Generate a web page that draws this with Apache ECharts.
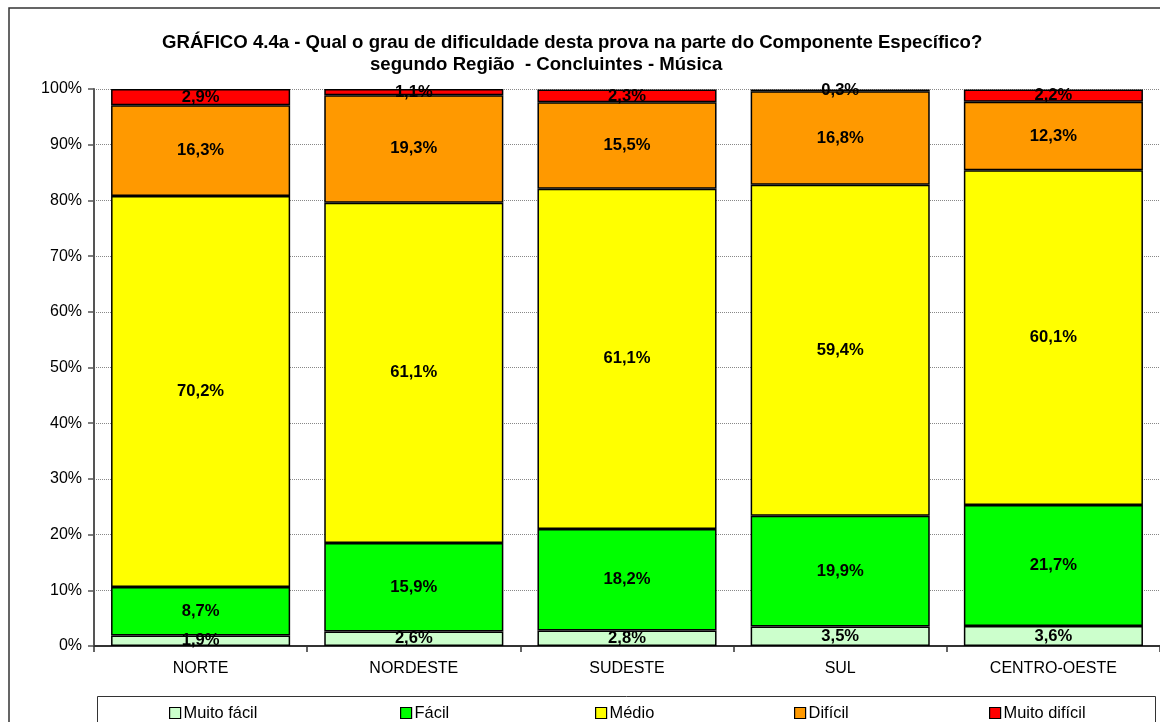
<!DOCTYPE html>
<html>
<head>
<meta charset="utf-8">
<script src="https://cdn.jsdelivr.net/npm/echarts@6/dist/echarts.min.js"></script>
<style>
  html, body { margin: 0; padding: 0; background: #fff; }
  #chart { width: 1160px; height: 722px; }
</style>
</head>
<body>
<div id="chart"></div>
<script>
// Regions (categories)
const regioes = ['NORTE', 'NORDESTE', 'SUDESTE', 'SUL', 'CENTRO-OESTE'];

// Share of answers per difficulty level (%)
const muitoFacil  = [1.9, 2.6, 2.8, 3.5, 3.6];
const facil       = [8.7, 15.9, 18.2, 19.9, 21.7];
const medio       = [70.2, 61.1, 61.1, 59.4, 60.1];
const dificil     = [16.3, 19.3, 15.5, 16.8, 12.3];
const muitoDificil = [2.9, 1.1, 2.3, 0.3, 2.2];

const nomes  = ['Muito fácil', 'Fácil', 'Médio', 'Difícil', 'Muito difícil'];
const cores  = ['#CCFFCC', '#00FF00', '#FFFF00', '#FF9900', '#FF0000'];
const valores = [muitoFacil, facil, medio, dificil, muitoDificil];

// Legend entry left positions
const legendLeft = [169, 400, 595, 794, 989];

const FONT = 'Arial, "Liberation Sans", sans-serif';

const chart = echarts.init(document.getElementById('chart'), null, { renderer: 'canvas' });

const fmt = v => v.toFixed(1).replace('.', ',') + '%';

const series = valores.map((vals, i) => ({
  name: nomes[i],
  type: 'bar',
  stack: 'total',
  barCategoryGap: '16%',
  data: vals,
  itemStyle: { color: cores[i], borderColor: '#000', borderWidth: 1.5 },
  label: {
    show: true,
    position: 'inside',
    formatter: p => fmt(p.value),
    color: '#000',
    fontFamily: FONT,
    fontWeight: 'bold',
    fontSize: 16.6
  },
  emphasis: { disabled: true }
}));

const legends = nomes.map((n, i) => ({
  data: [n],
  left: legendLeft[i],
  top: 705,
  icon: 'rect',
  itemWidth: 11,
  itemHeight: 11,
  itemGap: 0,
  padding: 0,
  selectedMode: false,
  textStyle: { fontFamily: FONT, fontSize: 16.4, color: '#000', padding: [0, 0, 0, -2] },
  itemStyle: { borderColor: '#000', borderWidth: 1.2 }
}));

chart.setOption({
  animation: false,
  backgroundColor: '#fff',
  title: [
    {
      text: 'GRÁFICO 4.4a - Qual o grau de dificuldade desta prova na parte do Componente Específico?',
      left: 162, top: 33,
      padding: 0,
      textStyle: { fontFamily: FONT, fontWeight: 'bold', fontSize: 18.6, color: '#000' }
    },
    {
      text: 'segundo Região  - Concluintes - Música',
      left: 370, top: 55,
      padding: 0,
      textStyle: { fontFamily: FONT, fontWeight: 'bold', fontSize: 18.6, color: '#000' }
    }
  ],
  legend: legends,
  grid: { left: 94, top: 89, width: 1067, bottom: 76 },
  xAxis: {
    type: 'category',
    data: regioes,
    axisLine: { lineStyle: { color: '#333', width: 2 } },
    axisTick: { show: true, length: 6, inside: false, lineStyle: { color: '#333', width: 1.5 } },
    axisLabel: { fontFamily: FONT, fontSize: 16, color: '#000', margin: 15 }
  },
  yAxis: {
    type: 'value',
    min: 0, max: 100, interval: 10,
    axisLine: { show: true, lineStyle: { color: '#555', width: 2 } },
    axisTick: { show: true, length: 6, lineStyle: { color: '#555', width: 1.5 } },
    axisLabel: { fontFamily: FONT, fontSize: 16, color: '#000', margin: 12, formatter: '{value}%' },
    splitLine: { show: true, lineStyle: { color: '#888', type: 'dotted', width: 1 } }
  },
  graphic: [
    // outer chart frame
    { type: 'rect', silent: true, z: -1, shape: { x: 9, y: 8, width: 1200, height: 800 },
      style: { fill: 'none', stroke: '#333', lineWidth: 1.5 } },
    // legend box
    { type: 'rect', silent: true, z: -1, shape: { x: 97.5, y: 696.5, width: 1058, height: 60 },
      style: { fill: '#fff', stroke: '#333', lineWidth: 1 } }
  ],
  series: series
});
</script>
</body>
</html>
